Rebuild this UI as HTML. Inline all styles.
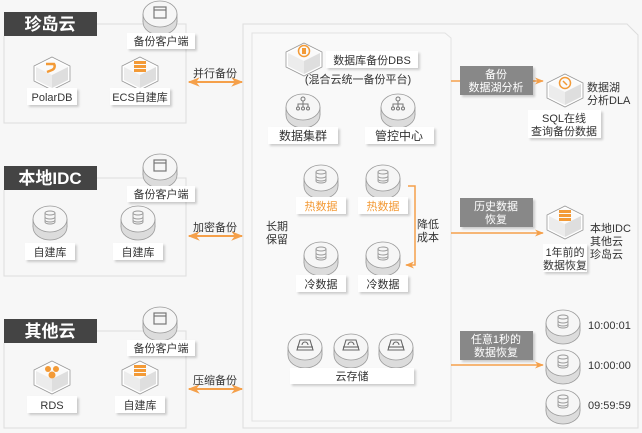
<!DOCTYPE html>
<html><head><meta charset="utf-8"><style>
html,body{margin:0;padding:0;background:#f7f7f7;width:642px;height:433px;overflow:hidden}
svg{display:block}
text{font-family:"Liberation Sans","Noto Sans CJK SC",sans-serif;fill:#333}
</style></head><body>
<svg width="642" height="433" viewBox="0 0 642 433" xmlns="http://www.w3.org/2000/svg">
<defs>
<g id="cyl">
<ellipse cx="0" cy="5" rx="17" ry="13" fill="#dcdcdc" stroke="#999" stroke-width="0.8"/>
<rect x="-17" y="-3" width="34" height="8" fill="#dcdcdc"/>
<line x1="-17" y1="-3" x2="-17" y2="5" stroke="#999" stroke-width="0.8"/>
<line x1="17" y1="-3" x2="17" y2="5" stroke="#999" stroke-width="0.8"/>
<ellipse cx="0" cy="-3" rx="17" ry="13" fill="#f6f6f6" stroke="#999" stroke-width="0.8"/>
</g>
<g id="db"><use href="#cyl"/>
<g fill="none" stroke="#999" stroke-width="0.9"><ellipse cx="0" cy="-9" rx="5" ry="2"/><path d="M-5 -9v9a5 2 0 0 0 10 0v-9M-5 -5a5 2 0 0 0 10 0M-5 -2a5 2 0 0 0 10 0"/></g></g>
<g id="win"><use href="#cyl"/><rect x="-6" y="-10" width="12" height="11" fill="none" stroke="#777" stroke-width="1.2"/><line x1="-6" y1="-7" x2="6" y2="-7" stroke="#777" stroke-width="1.2"/></g>
<g id="net"><use href="#cyl"/><g stroke="#777" fill="none" stroke-width="1"><circle cx="0" cy="-11" r="2"/><path d="M0 -9v3M-5 -3v-3h10v3M0 -6v3"/><circle cx="-5" cy="-1.5" r="1.5"/><circle cx="0" cy="-1.5" r="1.5"/><circle cx="5" cy="-1.5" r="1.5"/></g></g>
<g id="disk"><use href="#cyl"/><g stroke="#666" fill="none" stroke-width="1.1"><path d="M-8 0l3-10h10l3 10z"/><line x1="-8" y1="-3" x2="8" y2="-3"/><path d="M-3 -5a3 3 0 0 1 6 0"/></g></g>
<g id="hex">
<path d="M0 -16L18 -7L18 8L0 17L-18 8L-18 -7Z" fill="#fff" stroke="#999" stroke-width="0.8"/>
<path d="M0 -14L16 -6L0 2L-16 -6Z" fill="#fafafa"/>
<path d="M-16 -6L0 2L0 15L-16 7Z" fill="#ececec"/>
<path d="M16 -6L0 2L0 15L16 7Z" fill="#dedede"/>
</g>
<filter id="sh" x="-20%" y="-20%" width="140%" height="160%"><feDropShadow dx="2" dy="2" stdDeviation="1" flood-color="#000" flood-opacity="0.18"/></filter>
<marker id="ar" viewBox="0 0 10 10" refX="9" refY="5" markerWidth="6" markerHeight="6" orient="auto-start-reverse"><path d="M0 1L10 5L0 9L3 5Z" fill="#f5a04a"/></marker>
</defs>

<!-- left boxes -->
<g fill="none" stroke="#ddd" stroke-width="1">
<path d="M97 24H145M175 24H186V123H4V36"/>
<path d="M97 178H145M175 178H186V276H4V190"/>
<path d="M97 331H145M175 331H186V428H4V343"/>
</g>
<g>
<rect x="4" y="12" width="93" height="24" fill="#444"/>
<text x="50" y="30" text-anchor="middle" font-size="17" font-weight="bold" style="fill:#fff">珍岛云</text>
<rect x="4" y="166" width="93" height="24" fill="#444"/>
<text x="50" y="184" text-anchor="middle" font-size="17" font-weight="bold" style="fill:#fff">本地IDC</text>
<rect x="4" y="319" width="93" height="24" fill="#444"/>
<text x="50" y="337" text-anchor="middle" font-size="17" font-weight="bold" style="fill:#fff">其他云</text>
</g>

<!-- clients -->
<g>
<use href="#win" x="160" y="17"/>
<rect x="127" y="33" width="68" height="16" fill="#fff" filter="url(#sh)"/><text x="161" y="45" text-anchor="middle" font-size="11">备份客户端</text>
<use href="#win" x="160" y="170"/>
<rect x="127" y="186" width="68" height="16" fill="#fff" filter="url(#sh)"/><text x="161" y="198" text-anchor="middle" font-size="11">备份客户端</text>
<use href="#win" x="160" y="323"/>
<rect x="127" y="340" width="68" height="16" fill="#fff" filter="url(#sh)"/><text x="161" y="352" text-anchor="middle" font-size="11">备份客户端</text>
</g>

<!-- box1 content -->
<use href="#hex" x="52" y="73"/>
<path d="M46 64h8a4 4 0 0 1-2 6l-5 2" fill="none" stroke="#f39a36" stroke-width="2.5"/>
<rect x="27" y="88" width="50" height="17" fill="#fff" filter="url(#sh)"/><text x="52" y="101" text-anchor="middle" font-size="11">PolarDB</text>
<use href="#hex" x="140" y="73"/>
<g fill="#f39a36"><rect x="134" y="61" width="12" height="3"/><rect x="134" y="65" width="12" height="3"/><rect x="134" y="69" width="12" height="3"/></g>
<rect x="110" y="88" width="60" height="17" fill="#fff" filter="url(#sh)"/><text x="140" y="101" text-anchor="middle" font-size="11">ECS自建库</text>

<!-- box2 -->
<use href="#db" x="50" y="222"/>
<rect x="25" y="243" width="50" height="17" fill="#fff" filter="url(#sh)"/><text x="50" y="256" text-anchor="middle" font-size="11">自建库</text>
<use href="#db" x="138" y="222"/>
<rect x="113" y="243" width="50" height="17" fill="#fff" filter="url(#sh)"/><text x="138" y="256" text-anchor="middle" font-size="11">自建库</text>

<!-- box3 -->
<use href="#hex" x="52" y="377"/>
<g fill="#f39a36"><circle cx="48" cy="369" r="3"/><circle cx="56" cy="369" r="3"/><circle cx="52" cy="375" r="3.5"/></g>
<rect x="27" y="396" width="50" height="17" fill="#fff" filter="url(#sh)"/><text x="52" y="409" text-anchor="middle" font-size="11">RDS</text>
<use href="#hex" x="140" y="377"/>
<g fill="#f39a36"><rect x="134" y="365" width="12" height="3"/><rect x="134" y="369" width="12" height="3"/><rect x="134" y="373" width="12" height="3"/></g>
<rect x="115" y="396" width="50" height="17" fill="#fff" filter="url(#sh)"/><text x="140" y="409" text-anchor="middle" font-size="11">自建库</text>

<!-- arrows left -->
<g stroke="#f5a04a" stroke-width="2" marker-start="url(#ar)" marker-end="url(#ar)">
<line x1="189" y1="82" x2="242" y2="82"/>
<line x1="189" y1="236" x2="242" y2="236"/>
<line x1="189" y1="389" x2="242" y2="389"/>
</g>
<text x="215" y="77" text-anchor="middle" font-size="11">并行备份</text>
<text x="215" y="231" text-anchor="middle" font-size="11">加密备份</text>
<text x="215" y="384" text-anchor="middle" font-size="11">压缩备份</text>

<!-- panels -->
<path d="M243 24H627L638 35V428H243Z" fill="#f8f8f8" stroke="#ddd"/>
<path d="M252 33H445L451 38V421H252Z" fill="#f9f9f9" stroke="#e2e2e2"/>

<!-- inner -->
<use href="#hex" x="304" y="59"/>
<circle cx="304" cy="51" r="5.5" fill="none" stroke="#f39a36" stroke-width="1.5"/><rect x="302" y="48" width="4" height="6" fill="#f39a36"/>
<rect x="326" y="51" width="92" height="17" fill="#fff" filter="url(#sh)"/><text x="372" y="64" text-anchor="middle" font-size="11">数据库备份DBS</text>
<text x="358" y="83" text-anchor="middle" font-size="11">(混合云统一备份平台)</text>

<use href="#net" x="303" y="110"/>
<rect x="268" y="127" width="70" height="17" fill="#fff" filter="url(#sh)"/><text x="303" y="140" text-anchor="middle" font-size="12">数据集群</text>
<use href="#net" x="398" y="110"/>
<rect x="365" y="127" width="69" height="17" fill="#fff" filter="url(#sh)"/><text x="399" y="140" text-anchor="middle" font-size="12">管控中心</text>

<use href="#db" x="321" y="181"/>
<rect x="296" y="197" width="50" height="17" fill="#fff" filter="url(#sh)"/><text x="321" y="210" text-anchor="middle" font-size="11" style="fill:#f39a36">热数据</text>
<use href="#db" x="383" y="181"/>
<rect x="358" y="197" width="50" height="17" fill="#fff" filter="url(#sh)"/><text x="383" y="210" text-anchor="middle" font-size="11" style="fill:#f39a36">热数据</text>

<text x="277" y="230" text-anchor="middle" font-size="11">长期</text>
<text x="277" y="243" text-anchor="middle" font-size="11">保留</text>
<text x="428" y="228" text-anchor="middle" font-size="11">降低</text>
<text x="428" y="241" text-anchor="middle" font-size="11">成本</text>
<path d="M408 186H415V265H406" fill="none" stroke="#f5a04a" stroke-width="1.5" marker-end="url(#ar)"/>

<use href="#db" x="321" y="258"/>
<rect x="296" y="275" width="50" height="17" fill="#fff" filter="url(#sh)"/><text x="321" y="288" text-anchor="middle" font-size="11">冷数据</text>
<use href="#db" x="383" y="258"/>
<rect x="358" y="275" width="50" height="17" fill="#fff" filter="url(#sh)"/><text x="383" y="288" text-anchor="middle" font-size="11">冷数据</text>

<use href="#disk" x="305" y="350"/>
<use href="#disk" x="351" y="350"/>
<use href="#disk" x="396" y="350"/>
<rect x="290" y="368" width="124" height="16" fill="#fff" filter="url(#sh)"/><text x="352" y="380" text-anchor="middle" font-size="11">云存储</text>

<!-- right arrows -->
<g stroke="#f5a04a" stroke-width="1.5" marker-end="url(#ar)">
<line x1="451" y1="81" x2="543" y2="81"/>
<line x1="451" y1="233" x2="543" y2="233"/>
<line x1="451" y1="365" x2="543" y2="365"/>
</g>
<g fill="#888" filter="url(#sh)">
<rect x="460" y="66" width="73" height="29"/>
<rect x="460" y="198" width="73" height="29"/>
<rect x="460" y="331" width="73" height="29"/>
</g>
<g font-size="11" text-anchor="middle" style="fill:#fff">
<text x="496" y="78" style="fill:#fff">备份</text><text x="496" y="91" style="fill:#fff">数据湖分析</text>
<text x="496" y="210" style="fill:#fff">历史数据</text><text x="496" y="223" style="fill:#fff">恢复</text>
<text x="496" y="343" style="fill:#fff">任意1秒的</text><text x="496" y="356" style="fill:#fff">数据恢复</text>
</g>

<use href="#hex" x="565" y="90"/>
<circle cx="565" cy="83" r="5.5" fill="none" stroke="#f39a36" stroke-width="1.5"/><path d="M563 81l4 4" stroke="#f39a36" stroke-width="1.5"/>
<text x="587" y="91" font-size="11">数据湖</text><text x="587" y="104" font-size="11">分析DLA</text>
<rect x="528" y="110" width="73" height="28" fill="#fff" filter="url(#sh)"/>
<text x="564" y="122" text-anchor="middle" font-size="11">SQL在线</text><text x="564" y="135" text-anchor="middle" font-size="11">查询备份数据</text>

<use href="#hex" x="565" y="222"/>
<g fill="#f39a36"><rect x="559" y="210" width="12" height="3"/><rect x="559" y="214" width="12" height="3"/><rect x="559" y="218" width="12" height="3"/></g>
<rect x="543" y="244" width="44" height="28" fill="#fff" filter="url(#sh)"/>
<text x="565" y="256" text-anchor="middle" font-size="11">1年前的</text><text x="565" y="269" text-anchor="middle" font-size="11">数据恢复</text>
<text x="590" y="232" font-size="11">本地IDC</text><text x="590" y="245" font-size="11">其他云</text><text x="590" y="258" font-size="11">珍岛云</text>

<use href="#db" x="563" y="326"/><text x="588" y="329" font-size="11">10:00:01</text>
<use href="#db" x="563" y="366"/><text x="588" y="369" font-size="11">10:00:00</text>
<use href="#db" x="563" y="406"/><text x="588" y="409" font-size="11">09:59:59</text>
</svg>
</body></html>
